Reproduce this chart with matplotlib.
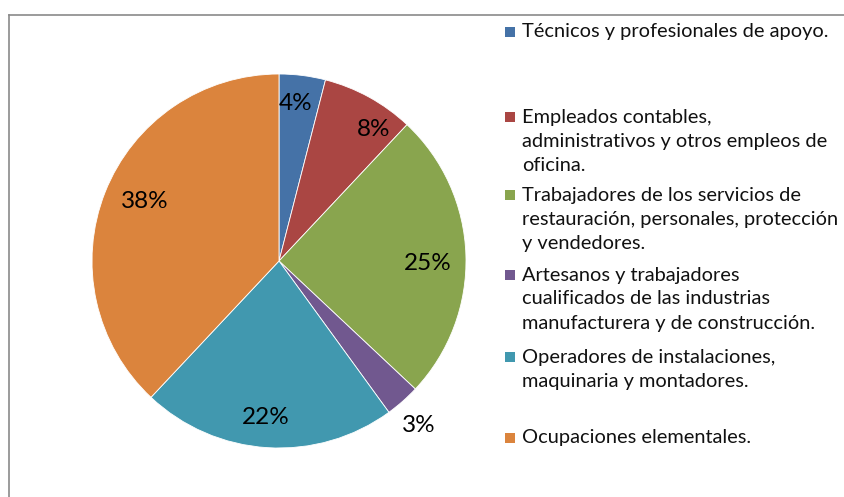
import matplotlib.pyplot as plt
from matplotlib.lines import Line2D
from matplotlib.patches import Rectangle

plt.rcParams['font.family'] = ['Lato', 'DejaVu Sans']

# occupation groups, share of total (%)
categorias = [
    "Técnicos y profesionales de apoyo.",
    "Empleados contables,\nadministrativos y otros empleos de\noficina.",
    "Trabajadores de los servicios de\nrestauración, personales, protección\ny vendedores.",
    "Artesanos y trabajadores\ncualificados de las industrias\nmanufacturera y de construcción.",
    "Operadores de instalaciones,\nmaquinaria y montadores.",
    "Ocupaciones elementales.",
]
porcentajes = [4, 8, 25, 3, 22, 38]
colores = ["#4572A7", "#AA4643", "#89A54E", "#71588F", "#4198AF", "#DB843D"]

W, H = 844, 497
fig = plt.figure(figsize=(W / 100, H / 100), dpi=100)

# pie: centre (279, 261) px, radius 187 px
cx, cy, r = 279, 261, 187
ax = fig.add_axes([(cx - r) / W, (H - cy - r) / H, 2 * r / W, 2 * r / H])
wedges, texts, autotexts = ax.pie(
    porcentajes, colors=colores, startangle=90, counterclock=False,
    autopct="%1.0f%%", pctdistance=0.82,
    wedgeprops=dict(linewidth=0.6, edgecolor="white"),
    textprops=dict(fontsize=17.5, color="black", family=["Lato", "DejaVu Sans"]))
ax.set_xlim(-1, 1)
ax.set_ylim(-1, 1)

# label placement (pixel offsets from the pie centre), "best fit" style
pos_etiquetas = [(17, -157), (95, -131), (149, 2), (140, 164), (-13, 156), (-134, -59)]
for t, (dx, dy) in zip(autotexts, pos_etiquetas):
    t.set_position((dx / r, -dy / r))

# legend drawn by hand on the right
marcadores_y = [32, 117, 195, 275, 357, 438]
paso = 24
for etiqueta, color, y in zip(categorias, colores, marcadores_y):
    fig.patches.append(Rectangle((505 / W, 1 - (y + 5) / H), 10 / W, 10 / H,
                                 transform=fig.transFigure, facecolor=color,
                                 edgecolor="none"))
    for i, linea in enumerate(etiqueta.split("\n")):
        fig.text(522 / W, 1 - (y + i * paso) / H, linea, fontsize=14.4,
                 va="center", ha="left", color="#111111")

# chart area border (left and top edges visible)
borde = "#8a8a8a"
fig.add_artist(Line2D([8.5 / W, 8.5 / W], [1 - 14.5 / H, 0], color=borde,
                      linewidth=1.2, transform=fig.transFigure))
fig.add_artist(Line2D([8.5 / W, 1], [1 - 14.5 / H, 1 - 14.5 / H], color=borde,
                      linewidth=1.2, transform=fig.transFigure))

fig.savefig("out.png", dpi=100)
